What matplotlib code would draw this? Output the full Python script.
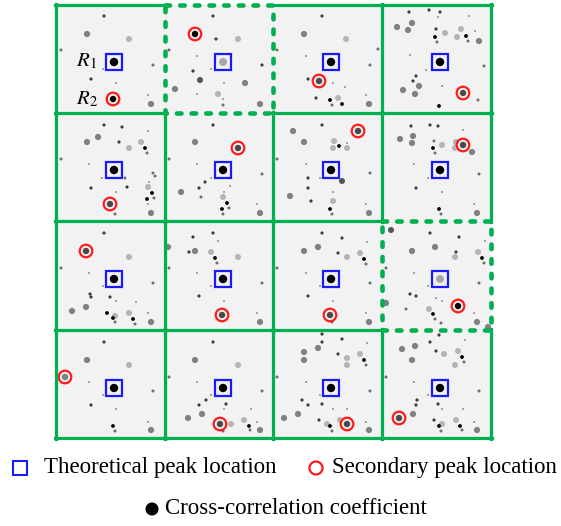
import matplotlib
matplotlib.use("Agg")
import matplotlib.pyplot as plt
from matplotlib.patches import Rectangle, Circle

plt.rcParams['mathtext.fontset'] = 'stix'

# grid geometry (pixel positions of green grid lines)
GRID_X = [56, 165, 273, 382, 491]
GRID_Y = [5, 113, 221, 330, 438]
ROW_TOP = [5, 113, 222, 331]
CENTER_UV = (58, 57)
DASHED_CELLS = [(0, 1), (2, 3)]

# dots per cell: (u, v, kind), local pixel offsets from cell top-left
CELL_00 = [(48,11,'D'),(31,29,'M'),(73,34,'L'),(5,45,'S'),(47,64,'T'),(97,60,'S'),(35,74,'D'),(60,78,'T'),(92,90,'T'),(95,99,'M')]
CELL_01 = [(48,11,'D'),(51,34,'D'),(73,34,'L'),(4,45,'S'),(32,51,'T'),(46,64,'T'),(97,60,'D'),(28,66,'D'),(35,75,'N'),(59,78,'T'),(80,78,'M'),(10,84,'M'),(32,89,'T'),(53,89,'L'),(58,94,'T'),(58,100,'S'),(95,99,'M')]
CELL_02 = [(49,11,'D'),(31,29,'M'),(73,34,'L'),(4,45,'S'),(33,51,'T'),(97,60,'S'),(35,74,'D'),(60,78,'T'),(72,82,'T'),(43,93,'D'),(57,95,'K'),(65,93,'L'),(59,100,'S'),(69,99,'K'),(93,90,'T'),(96,99,'M'),(105,44,'S')]
CELL_03 = [(27,7,'D'),(47,5,'D'),(58,7,'D'),(56,12,'T'),(87,11,'T'),(15,22,'M'),(30,18,'M'),(26,25,'M'),(54,24,'D'),(63,28,'L'),(53,32,'K'),(55,37,'S'),(75,32,'L'),(79,24,'L'),(84,31,'K'),(86,36,'S'),(93,26,'T'),(97,36,'M'),(28,50,'T'),(44,65,'T'),(102,61,'S'),(34,71,'D'),(31,76,'D'),(37,81,'M'),(21,85,'M'),(33,89,'M'),(60,81,'T'),(96,95,'S'),(57,101,'K')]
CELL_10 = [(48,12,'D'),(66,14,'D'),(42,24,'M'),(31,29,'M'),(63,29,'D'),(73,35,'L'),(85,29,'L'),(92,18,'T'),(89,35,'K'),(91,40,'S'),(5,46,'S'),(33,51,'T'),(46,65,'T'),(69,65,'S'),(71,74,'D'),(35,75,'D'),(60,79,'T'),(97,60,'S'),(99,63,'S'),(93,69,'T'),(92,74,'L'),(96,80,'K'),(91,86,'K'),(98,85,'S'),(92,91,'T'),(59,101,'S'),(95,100,'M')]
CELL_11 = [(48,12,'D'),(30,29,'M'),(4,46,'S'),(32,51,'T'),(46,65,'T'),(97,61,'S'),(40,69,'D'),(34,75,'D'),(16,79,'M'),(59,79,'T'),(65,73,'T'),(36,84,'S'),(58,84,'L'),(62,90,'K'),(57,96,'K'),(64,95,'S'),(58,101,'S'),(92,91,'T'),(95,100,'M')]
CELL_12 = [(49,12,'D'),(20,18,'M'),(31,29,'M'),(61,28,'L'),(66,33,'K'),(60,35,'L'),(74,35,'L'),(74,30,'T'),(4,46,'S'),(33,51,'T'),(47,65,'T'),(69,68,'N'),(97,60,'S'),(35,65,'D'),(35,75,'D'),(60,79,'T'),(17,83,'M'),(38,88,'D'),(60,88,'L'),(57,96,'K'),(59,101,'S'),(93,91,'T'),(96,100,'M')]
CELL_13 = [(29,13,'D'),(48,12,'D'),(56,13,'D'),(81,17,'T'),(31,23,'M'),(18,26,'M'),(30,30,'M'),(52,28,'S'),(60,32,'L'),(51,35,'K'),(53,40,'S'),(74,29,'L'),(73,35,'L'),(90,39,'M'),(32,51,'T'),(46,65,'T'),(97,61,'S'),(34,75,'D'),(60,79,'T'),(92,91,'T'),(57,96,'K'),(59,101,'S'),(95,100,'M')]
CELL_20 = [(48,11,'D'),(73,35,'L'),(5,46,'S'),(33,51,'T'),(47,64,'T'),(97,61,'S'),(34,72,'D'),(35,75,'D'),(54,75,'D'),(60,79,'T'),(80,80,'T'),(30,85,'M'),(16,89,'M'),(51,91,'K'),(59,94,'L'),(57,96,'K'),(73,91,'L'),(77,97,'K'),(79,102,'S'),(59,100,'S'),(92,91,'T'),(95,100,'M')]
CELL_21 = [(48,11,'D'),(28,15,'D'),(53,19,'T'),(30,29,'M'),(24,30,'D'),(46,30,'L'),(50,36,'K'),(52,41,'S'),(73,35,'L'),(3,25,'M'),(4,46,'S'),(32,51,'T'),(46,64,'T'),(97,61,'S'),(34,74,'D'),(59,79,'T'),(92,91,'T'),(95,100,'M')]
CELL_22 = [(49,11,'D'),(69,16,'D'),(45,25,'M'),(31,29,'M'),(65,31,'D'),(74,35,'L'),(87,31,'L'),(94,20,'T'),(91,37,'K'),(93,42,'S'),(4,46,'S'),(33,51,'T'),(47,64,'T'),(97,61,'S'),(35,74,'D'),(60,79,'T'),(93,91,'T'),(96,100,'M'),(59,100,'S')]
CELL_23 = [(9,8,'N'),(48,11,'D'),(77,15,'D'),(103,19,'T'),(30,29,'M'),(53,25,'M'),(74,30,'D'),(73,35,'L'),(96,30,'L'),(100,36,'K'),(102,41,'S'),(4,46,'S'),(32,51,'T'),(46,64,'T'),(97,61,'S'),(28,72,'D'),(34,74,'D'),(54,76,'T'),(60,79,'T'),(4,81,'M'),(24,87,'S'),(47,87,'L'),(51,92,'K'),(53,97,'S'),(59,101,'S'),(92,91,'T'),(95,100,'M'),(106,105,'M')]
CELL_30 = [(48,11,'D'),(31,29,'M'),(73,34,'L'),(33,51,'T'),(47,64,'T'),(97,60,'S'),(35,74,'D'),(60,78,'T'),(57,95,'K'),(59,100,'S'),(92,91,'T'),(95,99,'M')]
CELL_31 = [(48,11,'D'),(30,29,'M'),(73,34,'L'),(4,46,'S'),(32,51,'T'),(46,64,'T'),(97,60,'S'),(41,69,'D'),(34,74,'D'),(61,73,'D'),(59,78,'T'),(86,78,'T'),(37,83,'M'),(23,87,'M'),(66,93,'L'),(79,89,'L'),(84,95,'K'),(92,91,'T'),(85,99,'S'),(58,100,'S'),(95,99,'M')]
CELL_32 = [(49,3,'D'),(49,11,'D'),(69,8,'D'),(94,12,'T'),(45,17,'M'),(31,21,'M'),(31,29,'M'),(65,23,'D'),(74,27,'L'),(74,34,'L'),(87,23,'L'),(91,29,'K'),(93,34,'S'),(4,46,'S'),(33,51,'T'),(47,64,'T'),(97,60,'S'),(29,69,'D'),(35,74,'D'),(49,73,'D'),(60,78,'T'),(74,78,'T'),(25,83,'M'),(11,87,'M'),(46,89,'D'),(54,93,'L'),(57,95,'K'),(59,100,'S'),(67,89,'L'),(93,91,'T'),(96,99,'M')]
CELL_33 = [(57,4,'D'),(48,11,'D'),(83,9,'T'),(33,15,'M'),(20,18,'M'),(30,29,'M'),(54,20,'D'),(62,23,'L'),(76,20,'L'),(80,26,'K'),(82,31,'S'),(73,34,'L'),(4,46,'S'),(32,51,'T'),(46,64,'T'),(97,60,'S'),(35,69,'D'),(34,74,'D'),(56,73,'D'),(60,78,'T'),(81,78,'T'),(31,83,'M'),(52,89,'D'),(60,93,'L'),(57,95,'K'),(59,100,'S'),(74,89,'L'),(78,95,'K'),(80,99,'S'),(92,91,'T'),(95,99,'M')]

CELLS = [[CELL_00, CELL_01, CELL_02, CELL_03],
         [CELL_10, CELL_11, CELL_12, CELL_13],
         [CELL_20, CELL_21, CELL_22, CELL_23],
         [CELL_30, CELL_31, CELL_32, CELL_33]]

# secondary peak (u, v, kind) per cell, row-major
SECONDARY = [(57,94,'K'), (30,29,'K'), (46,76,'P'), (81,88,'P'),
             (54,91,'P'), (73,35,'P'), (85,18,'P'), (81,32,'P'),
             (30,29,'P'), (57,93,'P'), (57,93,'P'), (76,84,'K'),
             (9,46,'M'), (55,93,'P'), (74,93,'P'), (17,87,'P')]

# legend labels
LEGEND_LABELS = ["Theoretical peak location", "Secondary peak location",
                 "Cross-correlation coefficient"]

STYLE = {'K': (1.9, '#000000'), 'D': (1.6, '#3c3c3c'), 'S': (1.5, '#6e6e6e'),
         'T': (1.0, '#909090'), 'M': (3.1, '#808080'), 'L': (3.0, '#b4b4b4'),
         'N': (3.0, '#555555'), 'P': (3.0, '#4a4a4a')}

GREEN = '#00b050'
BLUE = '#1a1aff'
RED = '#ff1a1a'

fig = plt.figure(figsize=(5.61, 5.26), dpi=100)
ax = fig.add_axes([0, 0, 1, 1])
ax.set_xlim(0, 561)
ax.set_ylim(526, 0)
ax.axis('off')

for r in range(4):
    for c in range(4):
        x0, x1 = GRID_X[c], GRID_X[c + 1]
        y0, y1 = GRID_Y[r], GRID_Y[r + 1]
        ax.add_patch(Rectangle((x0, y0), x1 - x0, y1 - y0, facecolor='#f2f2f2',
                               edgecolor='none', zorder=0))
        ox, oy = x0, ROW_TOP[r]
        for (u, v, k) in CELLS[r][c]:
            rad, col = STYLE[k]
            ax.add_patch(Circle((ox + u, oy + v), rad, facecolor=col,
                                edgecolor='none', zorder=2))
        cu, cv = CENTER_UV
        dashed = (r, c) in DASHED_CELLS
        ax.add_patch(Circle((ox + cu, oy + cv), 4.2 if not dashed else 4.0,
                            facecolor='#000000' if not dashed else '#a8a8a8',
                            edgecolor='none', zorder=3))
        ax.add_patch(Rectangle((ox + cu - 8, oy + cv - 8), 16, 16, facecolor='none',
                               edgecolor=BLUE, lw=1.6, zorder=4))
        su, sv, sk = SECONDARY[r * 4 + c]
        rad, col = STYLE[sk]
        ax.add_patch(Circle((ox + su, oy + sv), 3.2, facecolor=col,
                            edgecolor='none', zorder=3))
        ax.add_patch(Circle((ox + su, oy + sv), 6.3, facecolor='none',
                            edgecolor=RED, lw=1.6, zorder=4))

# green grid lines (solid), skipping edges of dashed cells
def is_dashed_edge(kind, i, j):
    for (r, c) in DASHED_CELLS:
        if kind == 'h' and j == c and i in (r, r + 1):
            return True
        if kind == 'v' and j == r and i in (c, c + 1):
            return True
    return False

for i, y in enumerate(GRID_Y):
    for j in range(4):
        if not is_dashed_edge('h', i, j):
            ax.plot([GRID_X[j] - 1, GRID_X[j + 1] + 1], [y, y], color=GREEN,
                    lw=2.3, solid_capstyle='projecting', zorder=5)
for i, x in enumerate(GRID_X):
    for j in range(4):
        if not is_dashed_edge('v', i, j):
            ax.plot([x, x], [GRID_Y[j] - 1, GRID_Y[j + 1] + 1], color=GREEN,
                    lw=2.3, solid_capstyle='projecting', zorder=5)

for (r, c) in DASHED_CELLS:
    x0, x1 = GRID_X[c], GRID_X[c + 1]
    y0, y1 = GRID_Y[r], GRID_Y[r + 1]
    ax.plot([x0, x1, x1, x0, x0], [y0, y0, y1, y1, y0], color=GREEN, lw=3.3,
            linestyle=(0, (1.0, 2.2)), dash_capstyle='round', zorder=6)

# R labels
ax.text(76, 61, r"$R_1$", fontsize=15, va='center', ha='left', zorder=7)
ax.text(76, 99, r"$R_2$", fontsize=15, va='center', ha='left', zorder=7)

# legend
ax.add_patch(Rectangle((13, 461), 14, 14, facecolor='none', edgecolor=BLUE, lw=1.5))
ax.text(44, 468, LEGEND_LABELS[0], fontsize=16.5, family='Liberation Serif',
        va='center', ha='left')
ax.add_patch(Circle((316, 468), 6.5, facecolor='none', edgecolor=RED, lw=1.6))
ax.text(332, 468, LEGEND_LABELS[1], fontsize=16.5, family='Liberation Serif',
        va='center', ha='left')
ax.add_patch(Circle((152, 509), 6.5, facecolor='black', edgecolor='none'))
ax.text(165, 509, LEGEND_LABELS[2], fontsize=16.5, family='Liberation Serif',
        va='center', ha='left')

fig.savefig('out.png', dpi=100)
